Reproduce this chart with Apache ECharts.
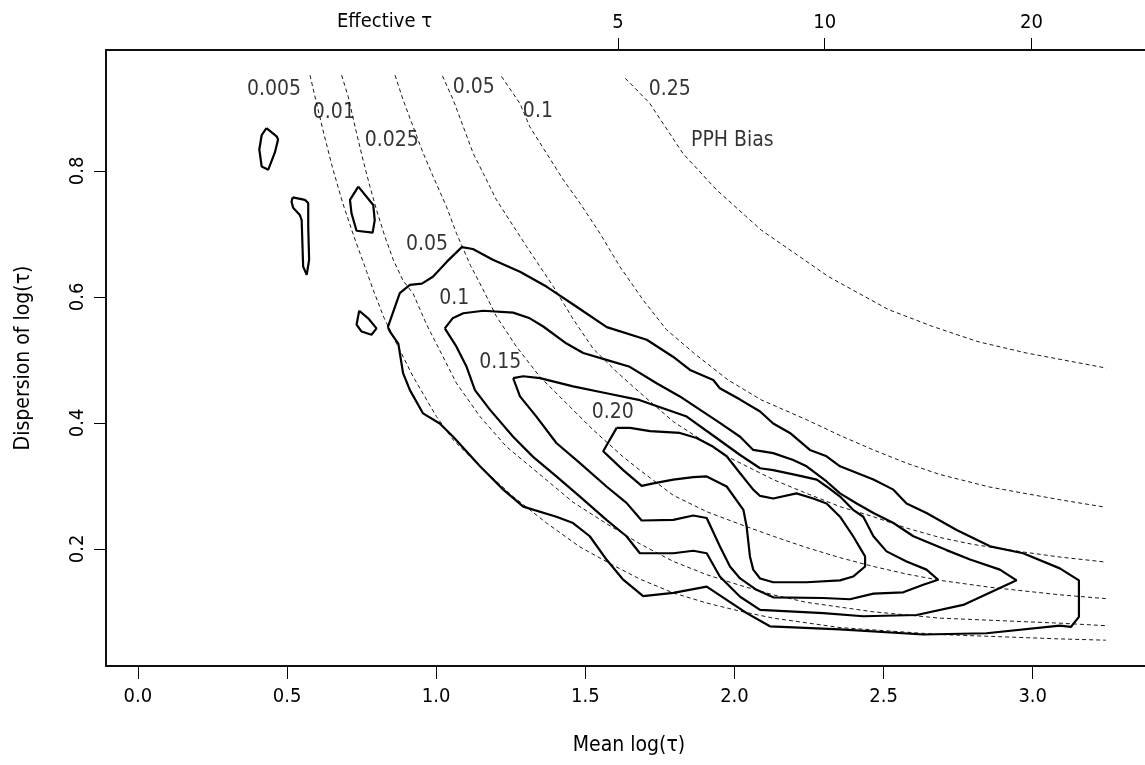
<!DOCTYPE html>
<html>
<head>
<meta charset="utf-8">
<script src="https://cdn.jsdelivr.net/npm/echarts@6.0.0/dist/echarts.min.js"></script>
<style>
html,body{margin:0;padding:0;background:#fff;overflow:hidden;}
#main{width:1160px;height:765px;}
</style>
</head>
<body>
<div id="main"></div>
<script>
// axis ticks
var meanTicks=[0,0.5,1,1.5,2,2.5,3];
var dispTicks=[0.2,0.4,0.6,0.8];
var effTauTicks=[5,10,20];

// density contours (mean, dispersion)
var dens05=[[0.838,0.552],[0.878,0.606],[0.912,0.619],[0.952,0.621],[0.989,0.632],[1.036,0.656],[1.086,0.679],[1.123,0.676],[1.190,0.659],[1.281,0.640],[1.371,0.616],[1.472,0.584],[1.572,0.552],[1.706,0.532],[1.794,0.505],[1.851,0.484],[1.929,0.468],[1.951,0.455],[2.019,0.437],[2.086,0.418],[2.130,0.399],[2.186,0.384],[2.253,0.357],[2.309,0.347],[2.354,0.331],[2.466,0.310],[2.533,0.294],[2.577,0.272],[2.644,0.257],[2.745,0.230],[2.857,0.204],[2.968,0.193],[3.091,0.169],[3.155,0.150],[3.155,0.092],[3.128,0.076],[3.091,0.078],[2.845,0.066],[2.633,0.064],[2.354,0.072],[2.119,0.077],[2.041,0.098],[1.974,0.119],[1.907,0.140],[1.795,0.130],[1.694,0.125],[1.627,0.151],[1.571,0.183],[1.515,0.220],[1.459,0.241],[1.403,0.251],[1.292,0.267],[1.225,0.294],[1.147,0.331],[1.057,0.378],[1.012,0.399],[0.956,0.415],[0.912,0.452],[0.889,0.479],[0.873,0.526],[0.845,0.545],[0.838,0.552]];
var dens05a=[[0.431,0.868],[0.465,0.855],[0.470,0.850],[0.459,0.829],[0.437,0.802],[0.415,0.807],[0.407,0.834],[0.415,0.857],[0.431,0.868]];
var dens05b=[[0.519,0.758],[0.560,0.754],[0.571,0.749],[0.571,0.712],[0.574,0.659],[0.566,0.635],[0.554,0.648],[0.549,0.722],[0.543,0.730],[0.521,0.741],[0.515,0.751],[0.519,0.758]];
var dens05c=[[0.739,0.775],[0.789,0.746],[0.794,0.722],[0.787,0.702],[0.733,0.705],[0.716,0.733],[0.711,0.754],[0.739,0.775]];
var dens05d=[[0.742,0.578],[0.772,0.566],[0.800,0.550],[0.783,0.540],[0.750,0.545],[0.733,0.556],[0.742,0.578]];
var dens10=[[1.029,0.550],[1.055,0.566],[1.091,0.574],[1.158,0.578],[1.258,0.575],[1.314,0.566],[1.359,0.553],[1.437,0.526],[1.493,0.511],[1.571,0.500],[1.649,0.489],[1.739,0.463],[1.817,0.442],[1.884,0.421],[1.951,0.400],[2.019,0.378],[2.063,0.357],[2.130,0.352],[2.197,0.341],[2.242,0.331],[2.309,0.307],[2.354,0.288],[2.410,0.272],[2.466,0.257],[2.533,0.241],[2.600,0.220],[2.711,0.198],[2.790,0.183],[2.890,0.167],[2.946,0.150],[2.767,0.111],[2.611,0.095],[2.432,0.093],[2.298,0.098],[2.086,0.103],[2.019,0.124],[1.951,0.156],[1.907,0.193],[1.862,0.197],[1.795,0.193],[1.683,0.193],[1.638,0.220],[1.571,0.246],[1.482,0.283],[1.403,0.315],[1.325,0.346],[1.258,0.378],[1.180,0.421],[1.130,0.452],[1.102,0.489],[1.068,0.521],[1.029,0.550]];
var dens15=[[1.258,0.471],[1.292,0.474],[1.348,0.471],[1.459,0.458],[1.571,0.447],[1.683,0.436],[1.840,0.410],[1.940,0.376],[2.019,0.349],[2.086,0.328],[2.130,0.325],[2.209,0.317],[2.276,0.310],[2.309,0.299],[2.354,0.283],[2.398,0.262],[2.432,0.251],[2.466,0.220],[2.510,0.196],[2.577,0.180],[2.644,0.167],[2.683,0.151],[2.633,0.143],[2.566,0.131],[2.466,0.129],[2.387,0.120],[2.298,0.122],[2.130,0.123],[2.074,0.135],[2.019,0.153],[1.985,0.172],[1.951,0.204],[1.907,0.249],[1.862,0.253],[1.795,0.246],[1.689,0.245],[1.638,0.273],[1.571,0.299],[1.482,0.336],[1.403,0.368],[1.336,0.410],[1.281,0.442],[1.258,0.471]];
var dens20=[[1.605,0.392],[1.650,0.392],[1.717,0.387],[1.817,0.384],[1.873,0.376],[1.929,0.362],[1.974,0.347],[2.019,0.320],[2.063,0.294],[2.086,0.284],[2.130,0.280],[2.208,0.288],[2.264,0.280],[2.309,0.272],[2.354,0.251],[2.398,0.220],[2.438,0.188],[2.438,0.172],[2.398,0.156],[2.354,0.150],[2.242,0.147],[2.130,0.147],[2.086,0.153],[2.063,0.167],[2.052,0.188],[2.041,0.235],[2.030,0.262],[1.974,0.299],[1.907,0.315],[1.862,0.314],[1.795,0.310],[1.728,0.304],[1.689,0.300],[1.627,0.325],[1.560,0.355],[1.605,0.392]];

// PPH bias curves
var bias005=[[0.577,0.952],[0.600,0.905],[0.624,0.858],[0.652,0.806],[0.686,0.750],[0.725,0.695],[0.767,0.640],[0.789,0.611],[0.825,0.567],[0.867,0.526],[0.923,0.473],[1.001,0.410],[1.057,0.373],[1.147,0.331],[1.258,0.283],[1.370,0.241],[1.482,0.203],[1.593,0.174],[1.683,0.152],[1.795,0.130],[1.907,0.114],[2.019,0.101],[2.130,0.090],[2.354,0.075],[2.689,0.064],[3.091,0.057],[3.245,0.055]];
var bias01=[[0.683,0.952],[0.705,0.918],[0.733,0.860],[0.755,0.817],[0.778,0.775],[0.800,0.738],[0.828,0.696],[0.856,0.659],[0.889,0.626],[0.923,0.605],[0.968,0.556],[1.068,0.463],[1.147,0.410],[1.236,0.362],[1.348,0.318],[1.459,0.274],[1.571,0.240],[1.683,0.208],[1.795,0.180],[1.907,0.159],[2.019,0.142],[2.130,0.127],[2.242,0.115],[2.466,0.100],[2.689,0.090],[3.091,0.082],[3.245,0.078]];
var bias025=[[0.862,0.952],[0.889,0.913],[0.923,0.870],[0.955,0.830],[0.990,0.791],[1.035,0.743],[1.068,0.701],[1.115,0.650],[1.158,0.611],[1.202,0.569],[1.269,0.521],[1.348,0.473],[1.437,0.431],[1.526,0.389],[1.627,0.346],[1.683,0.325],[1.795,0.285],[1.907,0.259],[2.019,0.239],[2.130,0.220],[2.242,0.202],[2.354,0.186],[2.466,0.172],[2.577,0.160],[2.689,0.150],[2.857,0.139],[3.091,0.127],[3.245,0.121]];
var bias05=[[1.021,0.951],[1.057,0.913],[1.091,0.870],[1.124,0.828],[1.158,0.796],[1.202,0.754],[1.303,0.680],[1.392,0.617],[1.459,0.565],[1.526,0.518],[1.605,0.481],[1.683,0.448],[1.795,0.402],[1.974,0.347],[2.130,0.310],[2.242,0.288],[2.354,0.267],[2.466,0.251],[2.577,0.233],[2.689,0.218],[2.800,0.207],[2.968,0.195],[3.091,0.187],[3.245,0.179]];
var bias1=[[1.219,0.950],[1.281,0.907],[1.314,0.870],[1.370,0.828],[1.426,0.786],[1.482,0.749],[1.549,0.701],[1.616,0.648],[1.694,0.595],[1.772,0.548],[1.866,0.510],[1.979,0.468],[2.092,0.436],[2.242,0.405],[2.354,0.380],[2.466,0.357],[2.577,0.336],[2.689,0.318],[2.857,0.298],[3.091,0.278],[3.245,0.266]];
var bias25=[[1.634,0.947],[1.715,0.908],[1.827,0.828],[1.940,0.770],[2.090,0.706],[2.316,0.632],[2.516,0.580],[2.665,0.553],[2.816,0.529],[2.978,0.511],[3.247,0.487]];

// contour labels
var biasLabelText=['0.005','0.01','0.025','0.05','0.1','0.25','PPH Bias'];
var biasLabelPos=[[0.456,0.930],[0.657,0.892],[0.851,0.849],[1.126,0.932],[1.341,0.894],[1.783,0.930],[1.993,0.849]];
var densLabelText=['0.05','0.1','0.15','0.20'];
var densLabelPos=[[0.969,0.683],[1.061,0.597],[1.215,0.496],[1.592,0.417]];

var FONT='"DejaVu Sans Condensed","Liberation Sans Narrow",sans-serif';
var xMin=-0.107,xMax=3.4;

function solid(d){
	return {type:'line',data:d,showSymbol:false,silent:true,
		lineStyle:{color:'#000',width:2.2}};
}
function dashed(d){
	return {type:'line',data:d,showSymbol:false,silent:true,
		lineStyle:{color:'#000',width:0.9,type:[4,3]}};
}
function labels(pos,txt){
	var d=pos.map(function(p,i){return [p[0],p[1],txt[i]];});
	return {type:'scatter',data:d,symbolSize:0,silent:true,
		label:{show:true,position:'inside',color:'#000',fontFamily:FONT,fontSize:21,
			formatter:function(p){return p.value[2];}}};
}

var logTicks=effTauTicks.map(function(v){return Math.log(v);});

var myChart=echarts.init(document.getElementById('main'),null,{renderer:'canvas'});
var option={
	backgroundColor:'#fff',
	animation:false,
	textStyle:{fontFamily:FONT},
	grid:{left:106,top:50,width:1046,height:616,show:true,borderColor:'#000',borderWidth:1.5,
		containLabel:false,outerBoundsMode:'none'},
	graphic:[{type:'text',left:337,top:12,
		style:{text:'Effective \u03c4',fontFamily:FONT,fontSize:20,fill:'#000'}}],
	xAxis:[{
		type:'value',min:xMin,max:xMax,position:'bottom',
		name:'Mean log(\u03c4)',nameLocation:'middle',nameGap:69,
		nameTextStyle:{color:'#000',fontSize:21,fontFamily:FONT},
		axisLine:{show:true,onZero:false,lineStyle:{color:'#000',width:1.5}},
		axisTick:{show:true,length:13,customValues:meanTicks,lineStyle:{color:'#000',width:1}},
		axisLabel:{show:true,margin:21,customValues:meanTicks,color:'#000',fontSize:20,fontFamily:FONT,
			formatter:function(v){return v.toFixed(1);}},
		splitLine:{show:false}
	},{
		type:'value',min:xMin,max:xMax,position:'top',
		axisLine:{show:true,onZero:false,lineStyle:{color:'#000',width:1.5}},
		axisTick:{show:true,length:12,customValues:logTicks,lineStyle:{color:'#000',width:1}},
		axisLabel:{show:true,margin:17,customValues:logTicks,color:'#000',fontSize:20,fontFamily:FONT,
			formatter:function(v){return String(Math.round(Math.exp(v)));}},
		splitLine:{show:false}
	}],
	yAxis:{
		type:'value',min:0.014,max:0.992,position:'left',
		name:'Dispersion of log(\u03c4)',nameLocation:'middle',nameGap:72,
		nameTextStyle:{color:'#000',fontSize:21,fontFamily:FONT},
		axisLine:{show:true,onZero:false,lineStyle:{color:'#000',width:1.5}},
		axisTick:{show:true,length:12,customValues:dispTicks,lineStyle:{color:'#000',width:1}},
		axisLabel:{show:true,rotate:90,margin:18,customValues:dispTicks,color:'#000',fontSize:20,fontFamily:FONT,
			formatter:function(v){return v.toFixed(1);}},
		splitLine:{show:false}
	},
	series:[
		dashed(bias005),dashed(bias01),dashed(bias025),dashed(bias05),dashed(bias1),dashed(bias25),
		solid(dens05),solid(dens05a),solid(dens05b),solid(dens05c),solid(dens05d),
		solid(dens10),solid(dens15),solid(dens20),
		labels(biasLabelPos,biasLabelText),
		labels(densLabelPos,densLabelText)
	]
};
myChart.setOption(option);
</script>
</body>
</html>
